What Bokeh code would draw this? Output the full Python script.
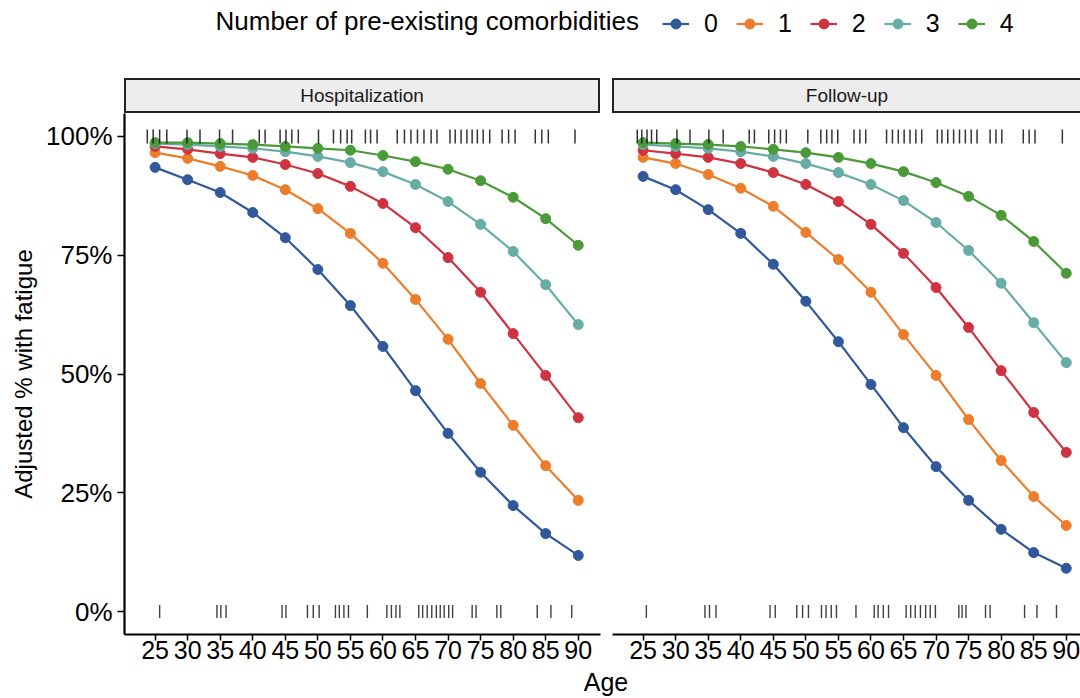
import math
from bokeh.plotting import figure
from bokeh.models import (Range1d, FixedTicker, PrintfTickFormatter, Legend, LegendItem,
                          Label, Div, Spacer, ColumnDataSource)
from bokeh.layouts import column, row
from bokeh.embed import file_html
from bokeh.resources import INLINE

FONT = "Liberation Sans"

# ---------------- data ----------------
ages = [25, 30, 35, 40, 45, 50, 55, 60, 65, 70, 75, 80, 85, 90]
x_ticks = [25, 30, 35, 40, 45, 50, 55, 60, 65, 70, 75, 80, 85, 90]
y_ticks = [0, 25, 50, 75, 100]
groups = ["0", "1", "2", "3", "4"]
panels = ["Hospitalization", "Follow-up"]
colors = ["#30589A", "#EC7D2B", "#CF3342", "#67ADA5", "#4B9A3A"]

hosp_0 = [93.5, 90.9, 88.2, 84.0, 78.7, 72.0, 64.4, 55.8, 46.5, 37.5, 29.3, 22.3, 16.4, 11.8]
hosp_1 = [96.6, 95.4, 93.7, 91.8, 88.8, 84.8, 79.6, 73.3, 65.7, 57.3, 48.0, 39.2, 30.7, 23.4]
hosp_2 = [97.9, 97.3, 96.4, 95.6, 94.1, 92.2, 89.5, 85.9, 80.8, 74.5, 67.2, 58.5, 49.7, 40.8]
hosp_3 = [98.5, 98.3, 97.9, 97.5, 96.8, 95.8, 94.5, 92.6, 89.9, 86.3, 81.5, 75.8, 68.8, 60.4]
hosp_4 = [98.7, 98.7, 98.5, 98.3, 97.9, 97.5, 97.1, 96.0, 94.7, 93.1, 90.7, 87.2, 82.7, 77.1]

fu_0 = [91.6, 88.8, 84.6, 79.6, 73.1, 65.3, 56.8, 47.8, 38.7, 30.5, 23.4, 17.3, 12.4, 9.1]
fu_1 = [95.6, 94.3, 92.0, 89.1, 85.3, 79.8, 74.1, 67.2, 58.3, 49.7, 40.4, 31.8, 24.2, 18.1]
fu_2 = [97.1, 96.4, 95.6, 94.3, 92.4, 89.9, 86.3, 81.5, 75.4, 68.2, 59.8, 50.7, 41.9, 33.5]
fu_3 = [98.3, 97.9, 97.5, 96.8, 95.8, 94.3, 92.4, 89.9, 86.5, 81.9, 76.0, 69.1, 60.8, 52.4]
fu_4 = [98.7, 98.5, 98.3, 97.9, 97.3, 96.6, 95.6, 94.3, 92.6, 90.3, 87.4, 83.4, 77.9, 71.2]

# observed ages of patients with fatigue (100%) and without (0%)
hosp_rug_yes = [23.8, 24.7, 25.7, 26.8, 29.9, 31.9, 34.9, 36.9, 41.0, 41.9, 44.2, 45.1, 46.0, 47.0,
                50.1, 52.4, 53.5, 54.5, 55.2, 57.3, 58.1, 59.1, 62.2, 63.3, 64.3, 65.3, 66.3, 67.4,
                68.3, 70.3, 71.1, 72.0, 72.9, 73.7, 74.5, 75.4, 76.4, 78.3, 79.3, 80.3, 83.4, 84.4,
                85.4, 89.5]
hosp_rug_no = [25.7, 34.5, 35.1, 35.9, 44.5, 45.1, 48.4, 49.3, 50.2, 52.7, 53.3, 54.0, 54.7, 57.6,
               60.6, 61.3, 62.0, 62.6, 65.5, 66.1, 66.8, 67.5, 68.2, 68.8, 69.4, 70.1, 70.7, 73.7,
               74.3, 77.5, 78.1, 83.7, 85.8, 89.0]
fu_rug_yes = [24.1, 24.8, 25.6, 26.3, 27.1, 30.2, 32.2, 35.1, 37.3, 41.3, 42.1, 44.3, 45.2, 46.1,
              47.0, 50.3, 52.3, 53.2, 54.0, 54.9, 57.4, 58.3, 59.2, 62.4, 63.3, 64.2, 65.1, 66.0,
              66.9, 67.8, 70.2, 70.9, 71.8, 72.7, 73.6, 74.5, 75.4, 76.3, 78.3, 79.2, 80.1, 83.4,
              84.3, 85.2, 89.4]
fu_rug_no = [25.5, 34.5, 35.2, 36.2, 44.5, 45.3, 48.6, 49.5, 50.4, 52.4, 53.1, 53.9, 54.7, 57.7,
             60.5, 61.1, 61.9, 62.7, 65.4, 66.1, 66.8, 67.6, 68.4, 69.1, 69.9, 73.5, 74.0, 74.6,
             77.6, 78.3, 83.6, 85.5, 88.5]

hosp_series = [hosp_0, hosp_1, hosp_2, hosp_3, hosp_4]
fu_series = [fu_0, fu_1, fu_2, fu_3, fu_4]

# ---------------- layout constants ----------------
TOTAL_W = 1080
LEGEND_H = 78
STRIP_H = 35
LEFT_BORDER = 124
FRAME_H = 521
LEFT_FW = 476
RIGHT_FW = 468
GAP = 6
PPY = 6.51               # pixels per year
X_PAD = 30.6             # pixels between the frame's left edge and age 25
Y0, Y1 = -4.84, 104.84
MARK = 10


def make_panel(series, rug_yes, rug_no, first):
    fw = LEFT_FW if first else RIGHT_FW
    x0 = 25 - X_PAD / PPY
    p = figure(frame_width=fw, frame_height=FRAME_H,
               x_range=Range1d(x0, x0 + fw / PPY),
               y_range=Range1d(Y0, Y1),
               min_border_left=LEFT_BORDER if first else GAP,
               min_border_right=GAP if first else 0,
               min_border_top=0, min_border_bottom=34,
               toolbar_location=None, output_backend="svg",
               y_axis_location="left" if first else None)
    p.outline_line_color = None
    p.xgrid.visible = False
    p.ygrid.visible = False
    p.background_fill_color = "white"
    p.border_fill_color = "white"

    for vals, c in zip(series, colors):
        src = ColumnDataSource(data=dict(x=ages, y=vals))
        p.line("x", "y", source=src, line_color=c, line_width=2.2)
        p.scatter("x", "y", source=src, size=MARK, fill_color=c, line_color=c)

    p.scatter(x=rug_yes, y=[100] * len(rug_yes), marker="dash", angle=math.pi / 2,
              size=14, line_color="#111111", line_width=1.5, line_alpha=0.85)
    p.scatter(x=rug_no, y=[0] * len(rug_no), marker="dash", angle=math.pi / 2,
              size=13, line_color="#111111", line_width=1.4, line_alpha=0.8)

    xa = p.xaxis[0]
    xa.ticker = FixedTicker(ticks=x_ticks)
    xa.major_label_text_font = FONT
    xa.major_label_text_font_size = "25px"
    xa.major_label_text_color = "black"
    xa.axis_line_width = 2.2
    xa.axis_line_color = "black"
    xa.major_tick_line_width = 1.5
    xa.major_tick_line_color = "black"
    xa.major_tick_out = 6
    xa.major_tick_in = 0
    xa.minor_tick_out = 0
    xa.minor_tick_in = 0
    xa.major_label_standoff = 0

    if first:
        ya = p.yaxis[0]
        ya.ticker = FixedTicker(ticks=y_ticks)
        ya.formatter = PrintfTickFormatter(format="%d%%")
        ya.major_label_text_font = FONT
        ya.major_label_text_font_size = "26px"
        ya.major_label_text_color = "black"
        ya.axis_line_width = 2.2
        ya.axis_line_color = "black"
        ya.major_tick_line_width = 1.5
        ya.major_tick_line_color = "black"
        ya.major_tick_out = 7
        ya.major_tick_in = 0
        ya.minor_tick_out = 0
        ya.minor_tick_in = 0
        ya.major_label_standoff = 5
        ya.axis_label = "Adjusted % with fatigue"
        ya.axis_label_text_font = FONT
        ya.axis_label_text_font_size = "24px"
        ya.axis_label_text_font_style = "normal"
        ya.axis_label_text_color = "black"
        ya.axis_label_standoff = 6
    return p


left = make_panel(hosp_series, hosp_rug_yes, hosp_rug_no, True)
right = make_panel(fu_series, fu_rug_yes, fu_rug_no, False)

# ---------------- legend row ----------------
leg = figure(width=TOTAL_W, height=LEGEND_H, x_range=Range1d(0, 1), y_range=Range1d(0, 1),
             toolbar_location=None, output_backend="svg", min_border=0,
             x_axis_location=None, y_axis_location=None)
leg.outline_line_color = None
leg.xgrid.visible = False
leg.ygrid.visible = False
items = []
for g, c, vals in zip(groups, colors, hosp_series):
    # same data as the panels; falls outside this strip's ranges, only the legend keys show
    src = ColumnDataSource(data=dict(x=ages, y=vals))
    lr = leg.line("x", "y", source=src, line_color=c, line_width=2.2)
    sr = leg.scatter("x", "y", source=src, size=MARK, fill_color=c, line_color=c)
    items.append(LegendItem(label=g, renderers=[lr, sr]))
legend = Legend(items=items, orientation="horizontal", location=(662, 40),
                glyph_width=27, glyph_height=25, label_height=25, label_width=0,
                label_standoff=15, spacing=18, padding=0, margin=0,
                border_line_color=None, background_fill_alpha=0, label_text_font=FONT,
                label_text_font_size="25px", label_text_color="black")
leg.add_layout(legend, "center")
leg.add_layout(Label(x=215, y=58, x_units="screen", y_units="screen",
                     text="Number of pre-existing comorbidities", text_baseline="middle",
                     text_font=FONT, text_font_size="26px", text_color="black"))

# ---------------- strips ----------------
def strip(text, w, right_border=True):
    st = {"background-color": "#EDEDED", "border": "2px solid #222222",
          "box-sizing": "border-box", "text-align": "center", "font-family": FONT,
          "font-size": "19px", "line-height": "31px", "color": "#1a1a1a",
          "overflow": "hidden"}
    if not right_border:
        st["border-right"] = "none"
    return Div(text=text, width=w, height=STRIP_H, margin=0, styles=st)


strips = row(Spacer(width=LEFT_BORDER, height=STRIP_H, margin=0), strip(panels[0], LEFT_FW),
             Spacer(width=2 * GAP, height=STRIP_H, margin=0),
             strip(panels[1], RIGHT_FW, right_border=False))

age_title = row(Spacer(width=136, height=28, margin=0),
                Div(text="Age", width=940, height=28, margin=0,
                    styles={"text-align": "center", "font-family": FONT, "font-size": "25px",
                            "line-height": "28px", "color": "black"}))

layout = column(leg, strips, row(left, right), age_title)

open("out.html", "w").write(file_html(layout, INLINE))
